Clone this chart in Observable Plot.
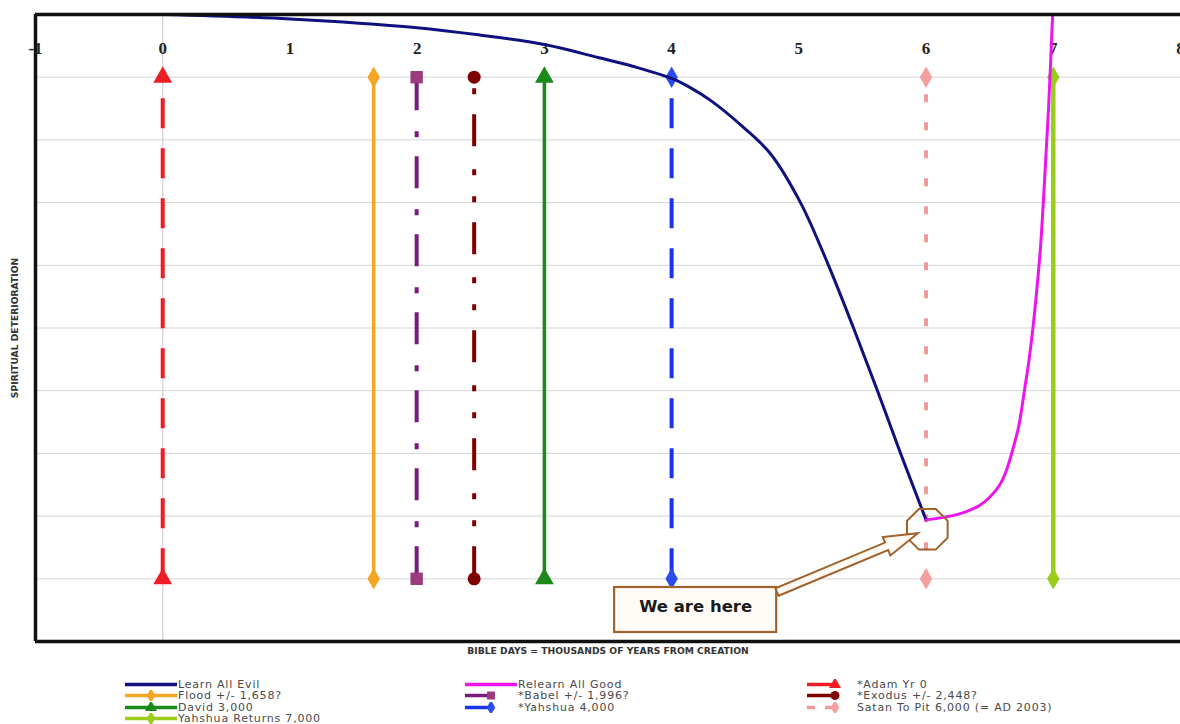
<!DOCTYPE html>
<html><head><meta charset="utf-8">
<script src="https://cdn.jsdelivr.net/npm/d3@7"></script>
<script src="https://cdn.jsdelivr.net/npm/@observablehq/plot@0.6"></script>
<style>
body{margin:0;background:#fff;}
#wrap{position:relative;width:1180px;height:724px;overflow:hidden;background:#fff;}
.leg{position:absolute;font-family:"DejaVu Sans",Verdana,sans-serif;font-size:11px;letter-spacing:0.8px;color:#4a4a4a;line-height:11px;white-space:nowrap;display:flex;align-items:center;height:11px;}
.leg svg{display:block;flex:none;}
</style>
</head><body><div id="wrap"></div>
<script>
// ---------- data ----------
const xTicks = [-1, 0, 1, 2, 3, 4, 5, 6, 7, 8];
const gridY = [1, 2, 3, 4, 5, 6, 7, 8, 9];
const xTitle = "BIBLE DAYS = THOUSANDS OF YEARS FROM CREATION";
const yTitle = "SPIRITUAL DETERIORATION";

const evilName = "Learn All Evil";
const evilX = [0, 1, 2, 2.5, 3, 3.43, 3.7, 4, 4.15, 4.306, 4.565, 4.777, 5.013, 5.233, 5.43, 5.618, 5.8, 6.0];
const evilY = [10, 9.93, 9.79, 9.67, 9.52, 9.31, 9.17, 8.98, 8.83, 8.63, 8.2, 7.78, 7.0, 6.0, 5.0, 4.0, 3.0, 1.94];

const goodName = "Relearn All Good";
const goodX = [6, 6.19, 6.3, 6.42, 6.5, 6.58, 6.63, 6.68, 6.73, 6.77, 6.81, 6.84, 6.87, 6.9, 6.93, 6.965, 6.995];
const goodY = [1.94, 2.0, 2.06, 2.17, 2.3, 2.5, 2.72, 3.05, 3.45, 3.96, 4.5, 5.0, 5.6, 6.3, 7.3, 8.6, 10];

const eventNames = ["*Adam Yr 0", "Flood +/- 1,658?", "*Babel +/- 1,996?", "*Exodus +/- 2,448?", "David 3,000", "*Yahshua  4,000", "Satan To Pit 6,000 (= AD 2003)", "Yahshua Returns 7,000"];
const eventYears = [0, 1.658, 1.996, 2.448, 3, 4, 6, 7];
const eventSpan = [1, 9];

const calloutText = "We are here";
const calloutBox = [{x1: 3.552, x2: 4.826, y1: 0.144, y2: 0.861}];
const calloutTarget = [{x: 6.01, y: 1.79}];
const calloutArrow = {from: {x: 4.832, y: 0.78}, to: {x: 5.94, y: 1.72}};

// ---------- styles ----------
const evilStyle = {color: "#10107f", width: 3};
const goodStyle = {color: "#ee14ee", width: 3};
const eventStyles = [
  {color: "#ee1c25", marker: "#ee1c25", dash: "30,20", symbol: "triangle", r: 7, width: 4},
  {color: "#f5a623", marker: "#f5a623", dash: null, symbol: "diamond", r: 6.5, width: 3.5},
  {color: "#7a1a7a", marker: "#9c3a7e", dash: "32,19,6,21", symbol: "square", r: 7, width: 4},
  {color: "#7f0000", marker: "#7f0000", dash: "32,20,6,21,6,23", symbol: "circle", r: 6.5, width: 4},
  {color: "#1b8a1b", marker: "#1b8a1b", dash: null, symbol: "triangle", r: 7, width: 3.5},
  {color: "#1a33ee", marker: "#2a4cf0", dash: "30,20", symbol: "diamond", r: 6.5, width: 4},
  {color: "#ec9a9a", marker: "#f4a0a0", dash: "8,20", symbol: "diamond", r: 6.5, width: 4},
  {color: "#9acd1a", marker: "#9acd1a", dash: null, symbol: "diamond", r: 6.5, width: 4.5}
];
const brown = "#a0622d";

// ---------- build ----------
const evil = evilX.map((x, i) => ({x, y: evilY[i]}));
const good = goodX.map((x, i) => ({x, y: goodY[i]}));
const events = eventYears.map((x, i) => ({x, name: eventNames[i], y1: eventSpan[0], y2: eventSpan[1]}));

const octagon = {
  draw(context, size) {
    const r = Math.sqrt(size / Math.PI);
    for (let i = 0; i < 8; i++) {
      const a = (i + 0.5) * Math.PI / 4;
      const px = r * Math.cos(a), py = r * Math.sin(a);
      if (i === 0) context.moveTo(px, py); else context.lineTo(px, py);
    }
    context.closePath();
  }
};

const eventMarks = [];
events.forEach((e, i) => {
  const s = eventStyles[i];
  eventMarks.push(Plot.ruleX([e], {x: "x", y1: "y1", y2: "y2", stroke: s.color, strokeWidth: s.width, strokeDasharray: s.dash || undefined}));
});
events.forEach((e, i) => {
  const s = eventStyles[i];
  eventMarks.push(Plot.dot([{x: e.x, y: e.y1}, {x: e.x, y: e.y2}], {x: "x", y: "y", symbol: s.symbol, r: s.r, fill: s.marker, stroke: "none"}));
});

const svg = Plot.plot({
  width: 1180,
  height: 662,
  marginLeft: 35,
  marginRight: 0,
  marginTop: 14,
  marginBottom: 21,
  x: {domain: [-1, 8], axis: null},
  y: {domain: [0, 10], axis: null},
  style: {background: "#fff", overflow: "visible"},
  marks: [
    Plot.ruleY(gridY, {stroke: "#d4d4d4", strokeWidth: 1}),
    Plot.ruleX([0], {stroke: "#d9d0d0", strokeWidth: 1.2}),
    Plot.text(xTicks, {x: d => d, frameAnchor: "top", dy: 34, text: d => String(d), fontFamily: "Liberation Serif", fontWeight: "bold", fontSize: 17, fill: "#222", lineAnchor: "middle"}),
    ...eventMarks,
    Plot.line(evil, {x: "x", y: "y", stroke: evilStyle.color, strokeWidth: evilStyle.width, curve: "catmull-rom"}),
    Plot.line(good, {x: "x", y: "y", stroke: goodStyle.color, strokeWidth: goodStyle.width, curve: "catmull-rom"}),
    Plot.ruleY([0, 10], {stroke: "#111", strokeWidth: 3.5}),
    Plot.ruleX([-1], {stroke: "#111", strokeWidth: 3.5}),
    Plot.text([xTitle], {frameAnchor: "bottom", dy: 10, text: d => d, fontFamily: "DejaVu Sans", fontWeight: "bold", fontSize: 9.2, fill: "#333", lineAnchor: "middle"}),
    Plot.text([yTitle], {frameAnchor: "left", dx: -20, rotate: -90, textAnchor: "middle", text: d => d, fontFamily: "DejaVu Sans", fontWeight: "bold", fontSize: 9.2, fill: "#333", lineAnchor: "middle"}),
    Plot.rect(calloutBox, {x1: "x1", x2: "x2", y1: "y1", y2: "y2", fill: "#fffcf8", stroke: brown, strokeWidth: 2.2}),
    Plot.text(calloutBox, {x: d => (d.x1 + d.x2) / 2, y: d => (d.y1 + d.y2) / 2, dy: -3, text: () => calloutText, fontFamily: "DejaVu Sans", fontWeight: "bold", fontSize: 16.5, fill: "#1a1a1a"}),
    Plot.dot(calloutTarget, {x: "x", y: "y", symbol: octagon, r: 22, fill: "none", stroke: brown, strokeWidth: 2})
  ]
});

// block arrow via the plot's own scales
const sx = svg.scale("x"), sy = svg.scale("y");
const p0 = [sx.apply(calloutArrow.from.x), sy.apply(calloutArrow.from.y)];
const p1 = [sx.apply(calloutArrow.to.x), sy.apply(calloutArrow.to.y)];
const dxv = p1[0] - p0[0], dyv = p1[1] - p0[1];
const len = Math.hypot(dxv, dyv);
const ux = dxv / len, uy = dyv / len, nx = -uy, ny = ux;
const w1 = 4, w2 = 10, hl = 34;
const hb = [p1[0] - ux * hl, p1[1] - uy * hl];
const pts = [
  [p0[0] + nx * w1, p0[1] + ny * w1],
  [hb[0] + nx * w1, hb[1] + ny * w1],
  [hb[0] + nx * w2, hb[1] + ny * w2],
  p1,
  [hb[0] - nx * w2, hb[1] - ny * w2],
  [hb[0] - nx * w1, hb[1] - ny * w1],
  [p0[0] - nx * w1, p0[1] - ny * w1]
];
d3.select(svg).append("path")
  .attr("d", "M" + pts.map(p => p.join(",")).join("L") + "Z")
  .attr("fill", "#fffaf3").attr("stroke", brown).attr("stroke-width", 2).attr("stroke-linejoin", "miter");

const wrap = document.getElementById("wrap");
wrap.appendChild(svg);

// ---------- legend ----------
const symbolTypes = {triangle: d3.symbolTriangle, square: d3.symbolSquare, circle: d3.symbolCircle, diamond: d3.symbolDiamond};
const colX = [125, 465, 807];
const rowY = [684, 695.5, 707, 718.5];
const legendItems = [
  {col: 0, row: 0, name: evilName, color: evilStyle.color, width: 3.5, len: 52, mark: null},
  {col: 0, row: 1, ev: 1, len: 52, at: 26},
  {col: 0, row: 2, ev: 4, len: 52, at: 26},
  {col: 0, row: 3, ev: 7, len: 52, at: 26},
  {col: 1, row: 0, name: goodName, color: goodStyle.color, width: 3.5, len: 52, mark: null},
  {col: 1, row: 1, ev: 2, len: 28, at: 26},
  {col: 1, row: 2, ev: 5, len: 28, at: 26},
  {col: 2, row: 0, ev: 0, len: 30, at: 28},
  {col: 2, row: 1, ev: 3, len: 30, at: 28},
  {col: 2, row: 2, ev: 6, len: 30, at: 28}
];
legendItems.forEach(it => {
  const div = document.createElement("div");
  div.className = "leg";
  div.style.left = colX[it.col] + "px";
  div.style.top = (rowY[it.row] - 5.5) + "px";
  const sw = it.col === 2 ? 50 : 53;
  const s = d3.create("svg").attr("width", sw).attr("height", 11);
  let name, color, width, dash = null, mk = null, mcol = null;
  if (it.ev !== undefined) {
    const st = eventStyles[it.ev];
    name = eventNames[it.ev]; color = st.color; width = 3.5; mk = st.symbol; mcol = st.marker;
    if (it.ev === 6) dash = "8,10";
  } else { name = it.name; color = it.color; width = it.width; }
  s.append("line").attr("x1", 0).attr("x2", it.len).attr("y1", 5.5).attr("y2", 5.5)
    .attr("stroke", color).attr("stroke-width", width).attr("stroke-dasharray", dash);
  if (mk) {
    s.append("path").attr("d", d3.symbol(symbolTypes[mk], Math.PI * 20)())
      .attr("transform", `translate(${it.at},5.5)`).attr("fill", mcol);
  }
  div.appendChild(s.node());
  const span = document.createElement("span");
  span.textContent = name;
  div.appendChild(span);
  wrap.appendChild(div);
});
</script></body></html>
